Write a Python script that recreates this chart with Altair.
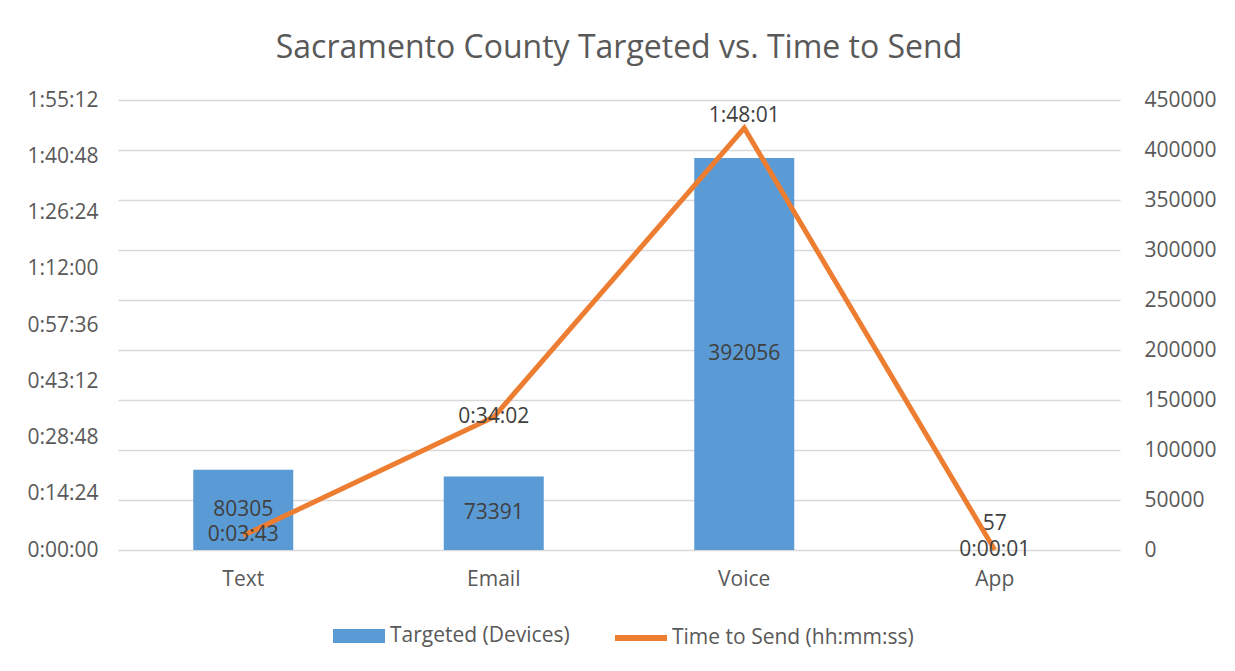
import altair as alt
import pandas as pd

categories = ["Text", "Email", "Voice", "App"]
targeted = [80305, 73391, 392056, 57]
time_to_send = ["0:03:43", "0:34:02", "1:48:01", "0:00:01"]

def to_ms(s):
    h, m, sec = (int(p) for p in s.split(":"))
    return (h * 3600 + m * 60 + sec) * 1000

df = pd.DataFrame({
    "cat": categories,
    "targeted": targeted,
    "mid": [v / 2 for v in targeted],
    "time_ms": [to_ms(t) for t in time_to_send],
    "tlabel": time_to_send,
    "bar_series": ["Targeted (Devices)"] * 4,
    "line_series": ["Time to Send (hh:mm:ss)"] * 4,
})

FONT = "Open Sans"
AX = "#595959"
LBL = "#404040"
BLUE = "#5B9BD5"
ORANGE = "#ED7D31"
FS = 21

x = alt.X("cat:N", sort=categories, title=None,
          scale=alt.Scale(paddingInner=0, paddingOuter=0),
          axis=alt.Axis(labelAngle=0, ticks=False, domain=False, labelPadding=18,
                        labelFont=FONT, labelFontSize=FS, labelColor=AX))

right_scale = alt.Scale(domain=[0, 450000])
left_scale = alt.Scale(domain=[0, 6912000])

right_axis = alt.Axis(orient="right", values=list(range(0, 450001, 50000)),
                      ticks=False, domain=False, grid=True, gridColor="#D9D9D9",
                      gridWidth=1.3, labelPadding=24, format="d",
                      labelFont=FONT, labelFontSize=FS, labelColor=AX)
left_axis = alt.Axis(orient="left", values=list(range(0, 6912001, 864000)),
                     ticks=False, domain=False, grid=False, labelPadding=20,
                     labelExpr="utcFormat(datum.value, '%-H:%M:%S')",
                     labelFont=FONT, labelFontSize=FS, labelColor=AX)

bar = alt.Chart(df).mark_bar(size=100).encode(
    x=x,
    y=alt.Y("targeted:Q", scale=right_scale, title=None, axis=right_axis),
    color=alt.Color("bar_series:N", scale=alt.Scale(range=[BLUE]),
                    legend=alt.Legend(title=None, orient="none", legendX=214, legendY=509,
                                      symbolType="M-1,-0.27H1V0.27H-1Z",
                                      symbolSize=2704, symbolOpacity=1, labelFont=FONT,
                                      labelFontSize=FS, labelColor=AX, labelLimit=0,
                                      labelOffset=4)),
)

bar_text = alt.Chart(df).transform_filter("datum.cat != 'App'").mark_text(
    font=FONT, fontSize=FS, color=LBL, baseline="middle").encode(
    x=x,
    y=alt.Y("mid:Q", scale=right_scale, title=None, axis=right_axis),
    text=alt.Text("targeted:Q", format="d"),
)
bar_text_app = alt.Chart(df).transform_filter("datum.cat == 'App'").mark_text(
    font=FONT, fontSize=FS, color=LBL, baseline="middle", dy=-26).encode(
    x=x,
    y=alt.Y("mid:Q", scale=right_scale, title=None, axis=right_axis),
    text=alt.Text("targeted:Q", format="d"),
)

line = alt.Chart(df).mark_line(strokeWidth=5).encode(
    x=x,
    y=alt.Y("time_ms:Q", scale=left_scale, title=None, axis=left_axis),
    color=alt.Color("line_series:N", scale=alt.Scale(range=[ORANGE]),
                    legend=alt.Legend(title=None, orient="none", legendX=494, legendY=509,
                                      symbolType="stroke",
                                      symbolSize=2704, symbolStrokeWidth=6, labelFont=FONT,
                                      labelFontSize=FS, labelColor=AX, labelLimit=0,
                                      labelOffset=2)),
)

line_text = alt.Chart(df).transform_filter("datum.cat != 'Voice'").mark_text(
    font=FONT, fontSize=FS, color=LBL, baseline="middle").encode(
    x=x,
    y=alt.Y("time_ms:Q", scale=left_scale, title=None, axis=left_axis),
    text="tlabel:N",
)
line_text_voice = alt.Chart(df).transform_filter("datum.cat == 'Voice'").mark_text(
    font=FONT, fontSize=FS, color=LBL, baseline="middle", dy=-12).encode(
    x=x,
    y=alt.Y("time_ms:Q", scale=left_scale, title=None, axis=left_axis),
    text="tlabel:N",
)

chart = alt.layer(
    alt.layer(bar, bar_text, bar_text_app),
    alt.layer(line, line_text, line_text_voice),
).resolve_scale(y="independent", color="independent").resolve_legend(color="independent").properties(
    width=1002, height=450,
    autosize=alt.AutoSizeParams(type="none"),
    padding={"left": 110, "top": 92, "right": 107, "bottom": 113},
    title=alt.TitleParams("Sacramento County Targeted vs. Time to Send", fontSize=32,
                          font=FONT, fontWeight="normal", color=AX, anchor="middle", offset=24),
).configure_view(strokeWidth=0)

chart.save("out.html", embed_options={"renderer": "svg", "actions": False})
